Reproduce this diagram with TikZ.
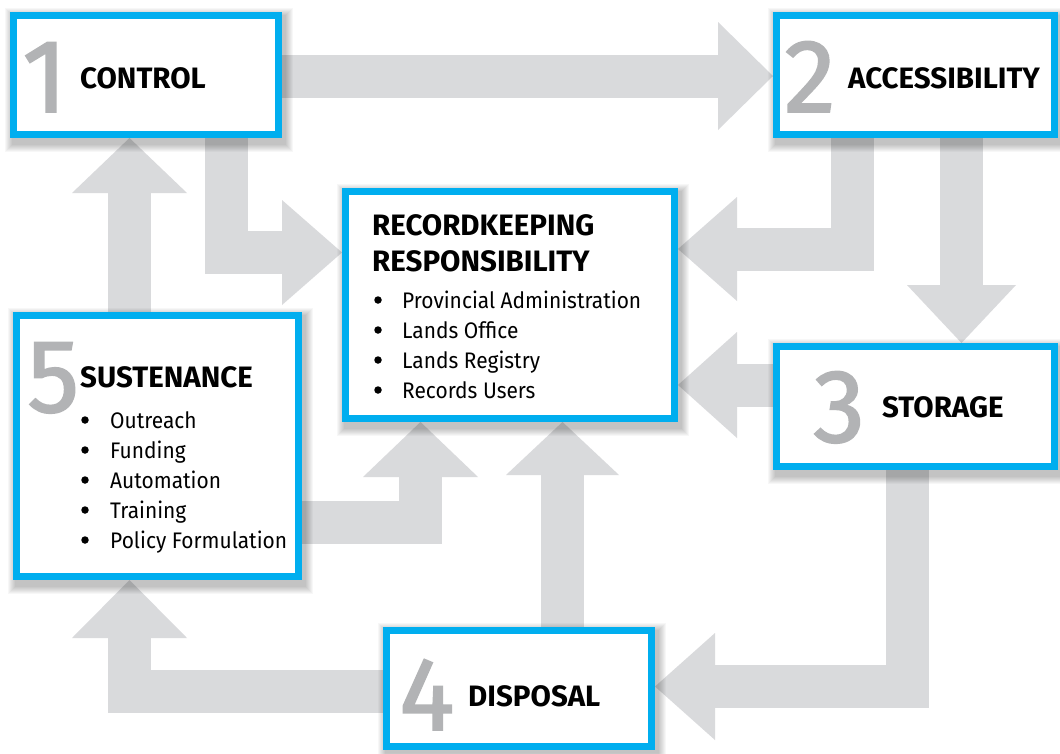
\documentclass[tikz,border=0pt]{standalone}
\usepackage{fontspec}
\setmainfont{Fira Sans}
\newfontfamily\numfont[FakeBold=1.6]{Fira Sans}
\newfontfamily\bodyfont[FakeStretch=0.93]{Fira Sans}
\usetikzlibrary{calc}
\definecolor{boxblue}{RGB}{0,174,239}
\definecolor{arrgray}{RGB}{217,218,220}
\definecolor{numgray}{RGB}{178,179,181}
\pgfdeclarelayer{arrows}
\pgfdeclarelayer{shade}
\pgfsetlayers{arrows,shade,main}
\begin{document}
\begin{tikzpicture}[x=1pt,y=-1pt,
  box/.style={draw=boxblue,line width=7pt,fill=white,inner sep=0pt,anchor=center},
  num/.style={anchor=base west,inner sep=0pt,text depth=0pt,text=numgray,font=\numfont\fontsize{104}{104}\selectfont},
  ttl/.style={anchor=base west,inner sep=0pt,font=\bfseries\fontsize{29.5}{32}\selectfont},
  body/.style={anchor=base west,inner sep=0pt,font=\bodyfont\fontsize{22.5}{30}\selectfont},
  bul/.style={circle,fill=black,inner sep=0pt,minimum size=7.5pt},
  shaft/.style={draw=arrgray,line width=43pt,line cap=butt,line join=miter},
  head/.style={fill=arrgray},
  shd/.style={fill=black,opacity=0.03},
]
\useasboundingbox (0,0) rectangle (1060,753);

% boxes
\node[box,minimum width=265pt,minimum height=119pt] (b1) at (146,75) {};
\node[box,minimum width=278pt,minimum height=119pt] (b2) at (915.5,75) {};
\node[box,minimum width=329pt,minimum height=227pt] (cc) at (510,305) {};
\node[box,minimum width=282pt,minimum height=261pt] (b5) at (157.5,446) {};
\node[box,minimum width=278pt,minimum height=120pt] (b3) at (915.5,406.5) {};
\node[box,minimum width=265pt,minimum height=116pt] (b4) at (519,688.5) {};

% shadows
\begin{pgfonlayer}{shade}
\foreach \n in {b1,b2,cc,b5,b3,b4}{
  \foreach \k in {1,...,8}{
    \fill[shd] ($(\n.north west)+(3-\k,4-\k)$) rectangle ($(\n.south east)+(3+\k,6+\k)$);
  }
}
\end{pgfonlayer}

% block arrows
\begin{pgfonlayer}{arrows}
\fill[white] (0,0) rectangle (1060,753);
% 1 -> 2
\draw[shaft] (b1.east |- 0,76) -- (719,76);
\fill[head] (718,22) -- (b2.west |- 0,76) -- (718,130) -- cycle;
% 1 -> centre
\draw[shaft] (b1.south -| 226,0) |- (284,252.5);
\fill[head] (282,200) -- (cc.west |- 0,252.5) -- (282,305) -- cycle;
% 2 -> centre
\draw[shaft] (b2.south -| 852,0) |- (736,249);
\fill[head] (737,197) -- (cc.east |- 0,249) -- (737,301) -- cycle;
% 2 -> 3
\draw[shaft] (b2.south -| 961.5,0) -- (961.5,286);
\fill[head] (907,285) -- (b3.north -| 961.5,0) -- (1016,285) -- cycle;
% 3 -> centre
\draw[shaft] (b3.west |- 0,385) -- (736,385);
\fill[head] (737,332) -- (cc.east |- 0,385) -- (737,438) -- cycle;
% 3 -> 4
\draw[shaft] (b3.south -| 907.5,0) |- (714,686.5);
\fill[head] (715,633) -- (b4.east |- 0,686.5) -- (715,740) -- cycle;
% 4 -> centre
\draw[shaft] (b4.north -| 562.5,0) -- (562.5,474);
\fill[head] (506,475) -- (cc.south -| 562.5,0) -- (619,475) -- cycle;
% 5 -> centre
\draw[shaft] (b5.east |- 0,522) -| (420.5,476);
\fill[head] (363,477) -- (cc.south -| 420.5,0) -- (478,477) -- cycle;
% 4 -> 5
\draw[shaft] (b4.west |- 0,691) -| (129.5,637);
\fill[head] (72,638) -- (b5.south -| 129.5,0) -- (187,638) -- cycle;
% 5 -> 1
\draw[shaft] (b5.north -| 129.5,0) -- (129.5,192);
\fill[head] (72,193) -- (b1.south -| 129.5,0) -- (187,193) -- cycle;
\end{pgfonlayer}

% texts
\node[num] (n1) at (22,112) {1};
\node[ttl] (t1) at (80,88) {CONTROL};
\node[num] (n2) at (784,112) {2};
\node[ttl] (t2) at (848,88) {ACCESSIBILITY};
\node[num] (n3) at (813,442) {3};
\node[ttl] (t3) at (882,417) {STORAGE};
\node[num] (n4) at (399,730) {4};
\node[ttl] (t4) at (468,706) {DISPOSAL};
\node[num] (n5) at (27,412) {5};
\node[ttl] (t5) at (80,387) {SUSTENANCE};
\node[ttl] (tc1) at (372,235) {RECORDKEEPING};
\node[ttl] (tc2) at (372,271) {RESPONSIBILITY};
\foreach \t [count=\i] in {Provincial Administration, Lands Office, Lands Registry, Records Users}{
  \node[bul] (cb\i) at (378,{300+30*(\i-1)}) {};
  \node[body] (ct\i) at (402,{308+30*(\i-1)}) {\t};
}
\foreach \t [count=\i] in {Outreach, Funding, Automation, Training, Policy Formulation}{
  \node[bul] (sb\i) at (85,{420+30*(\i-1)}) {};
  \node[body] (st\i) at (110,{428+30*(\i-1)}) {\t};
}
\end{tikzpicture}
\end{document}
